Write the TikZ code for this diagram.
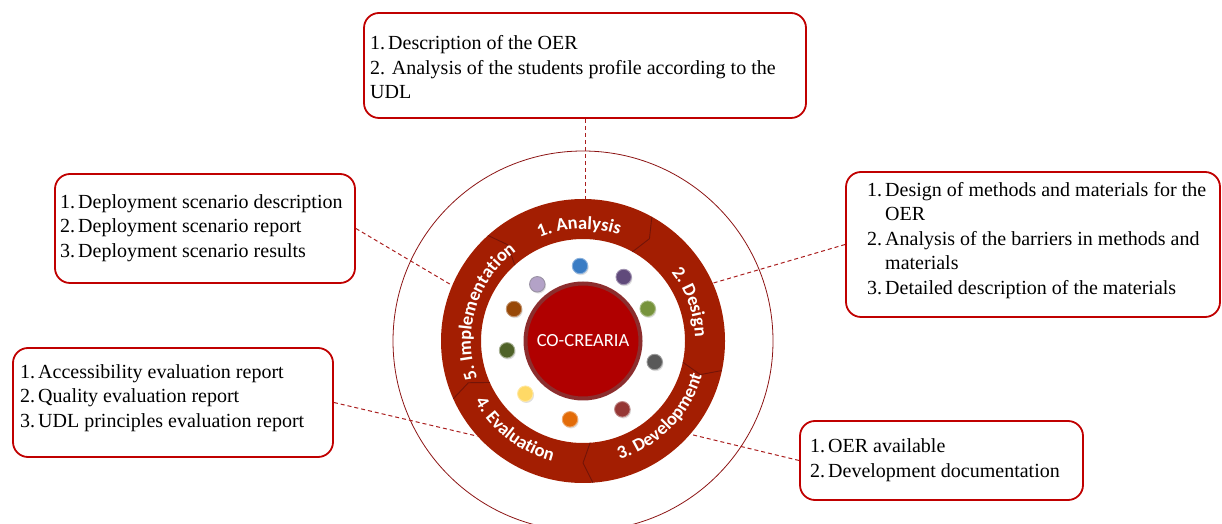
\documentclass[tikz,border=0pt]{standalone}
\usepackage{fontspec}
\setmainfont{Liberation Serif}
\setsansfont{Carlito}
\usetikzlibrary{decorations.text,shadows}
\definecolor{boxred}{RGB}{192,0,0}
\definecolor{connred}{RGB}{170,30,30}
\definecolor{ringred}{RGB}{163,30,2}
\definecolor{sepred}{RGB}{115,20,8}
\definecolor{hubred}{RGB}{176,0,0}
\definecolor{hubborder}{RGB}{140,45,45}
\definecolor{outerred}{RGB}{140,20,20}
\definecolor{bBlue}{RGB}{58,124,196}
\definecolor{bPurple}{RGB}{96,74,123}
\definecolor{bGreen}{RGB}{119,147,60}
\definecolor{bGray}{RGB}{89,89,89}
\definecolor{bDarkRed}{RGB}{149,55,53}
\definecolor{bOrange}{RGB}{227,108,9}
\definecolor{bYellow}{RGB}{255,217,102}
\definecolor{bDarkGreen}{RGB}{79,98,40}
\definecolor{bBrown}{RGB}{152,72,7}
\definecolor{bLilac}{RGB}{179,162,199}
\newcommand{\rfont}{\sffamily\bfseries\fontsize{18.5}{21}\selectfont}
\newcommand{\nb}[1]{\makebox[18pt][l]{#1}}
\begin{document}
\begin{tikzpicture}[x=1pt,y=1pt,
  box/.style={draw=boxred, line width=1.8pt, rounded corners=15pt, inner sep=0pt, fill=white},
  txt/.style={anchor=west, align=left, inner sep=0pt, font=\fontsize{20}{24.5}\selectfont},
  conn/.style={draw=connred, line width=1pt, dash pattern=on 4pt off 3pt},
  ball/.style={circle, minimum size=15.5pt, inner sep=0pt, line width=0.9pt,
    drop shadow={opacity=0.25, shadow xshift=1pt, shadow yshift=-1.5pt}},
  sepline/.style={draw=sepred, line width=0.9pt},
  rlab/.style={decorate, decoration={text along path, text align=center, text color=white}}]
\useasboundingbox (0,0) rectangle (1222,524);
\clip (0,0) rectangle (1222,524);
\coordinate (C) at (583,183);

% boxes
\node[box, minimum width=442pt, minimum height=105pt] (A) at (585,458.5) {};
\node[box, minimum width=374pt, minimum height=145pt] (D) at (1033,279.5) {};
\node[box, minimum width=300pt, minimum height=109pt] (I) at (205,295.5) {};
\node[box, minimum width=320pt, minimum height=109pt] (E) at (173,121.5) {};
\node[box, minimum width=283pt, minimum height=79pt] (V) at (941.5,63.5) {};

\node[txt] (At) at (370,456.5) {\nb{1.}Description of the OER\\2. Analysis of the students profile according to the\\UDL};
\node[txt] (Dt) at (867,283.5) {\nb{1.}Design of methods and materials for the\\\nb{}OER\\\nb{2.}Analysis of the barriers in methods and\\\nb{}materials\\\nb{3.}Detailed description of the materials};
\node[txt] (It) at (60,296) {\nb{1.}Deployment scenario description\\\nb{2.}Deployment scenario report\\\nb{3.}Deployment scenario results};
\node[txt] (Et) at (20,126.3) {\nb{1.}Accessibility evaluation report\\\nb{2.}Quality evaluation report\\\nb{3.}UDL principles evaluation report};
\node[txt] (Vt) at (810,64) {\nb{1.}OER available\\\nb{2.}Development documentation};

% outer thin circle and ring reference node
\node[circle, draw=outerred, line width=0.8pt, minimum size=380pt, inner sep=0pt] (outer) at (C) {};
\node[circle, minimum size=284pt, inner sep=0pt] (ring) at (C) {};

% connectors
\draw[conn] (A.south) -- (A.south |- ring.north);
\draw[conn] (D.west) -- (ring.24);
\draw[conn] (I.east) -- (ring.157);
\draw[conn] (E.east) -- (ring.222);
\draw[conn] (V.west) -- (ring.319);

% ring
\fill[ringred, even odd rule] (C) circle[radius=142] (C) circle[radius=102];
\foreach \a in {61,-12,-86,-156,132}
  \draw[sepline] ([shift={(\a:142)}]C) -- ([shift={({\a-4}:122)}]C) -- ([shift={(\a:102)}]C);

% ring labels
\path[rlab, decoration={text={|\rfont|1. Analysis}}] ([shift={(132:112)}]C) arc[start angle=132, end angle=52, radius=112];
\path[rlab, decoration={text={|\rfont|2. Design}}] ([shift={(60:112)}]C) arc[start angle=60, end angle=-20, radius=112];
\path[rlab, decoration={text={|\rfont|3. Development}}] ([shift={(-84.5:124)}]C) arc[start angle=-84.5, end angle=-4.5, radius=124];
\path[rlab, decoration={text={|\rfont|4. Evaluation}}] ([shift={(-167.5:124)}]C) arc[start angle=-167.5, end angle=-87.5, radius=124];
\path[rlab, decoration={text={|\rfont|5. Implementation}}] ([shift={(203:112)}]C) arc[start angle=203, end angle=123, radius=112];

% hub
\node[circle, fill=hubred, draw=hubborder, line width=4pt, minimum size=115pt, inner sep=0pt,
  text=white, font=\sffamily\fontsize{18.5}{20}\selectfont] (hub) at (C) {CO-CREARIA};

% balls
\node[ball, fill=bBlue, draw=bBlue!60!white] (b1) at ([shift={(-3,75)}]C) {};
\node[ball, fill=bPurple, draw=bPurple!60!white] (b2) at ([shift={(40.7,64)}]C) {};
\node[ball, fill=bGreen, draw=bGreen!60!white] (b3) at ([shift={(64.7,32.3)}]C) {};
\node[ball, fill=bGray, draw=bGray!60!white] (b4) at ([shift={(71.7,-21)}]C) {};
\node[ball, fill=bDarkRed, draw=bDarkRed!60!white] (b5) at ([shift={(39.3,-68.3)}]C) {};
\node[ball, fill=bOrange, draw=bOrange!60!white] (b6) at ([shift={(-13,-78.3)}]C) {};
\node[ball, fill=bYellow, draw=bYellow!60!white] (b7) at ([shift={(-57.7,-52.7)}]C) {};
\node[ball, fill=bDarkGreen, draw=bDarkGreen!50!white] (b8) at ([shift={(-76,-9.3)}]C) {};
\node[ball, fill=bBrown, draw=bBrown!60!white] (b9) at ([shift={(-69,32)}]C) {};
\node[ball, fill=bLilac, draw=bLilac!50!gray] (b10) at ([shift={(-45.7,56.7)}]C) {};
\end{tikzpicture}
\end{document}
